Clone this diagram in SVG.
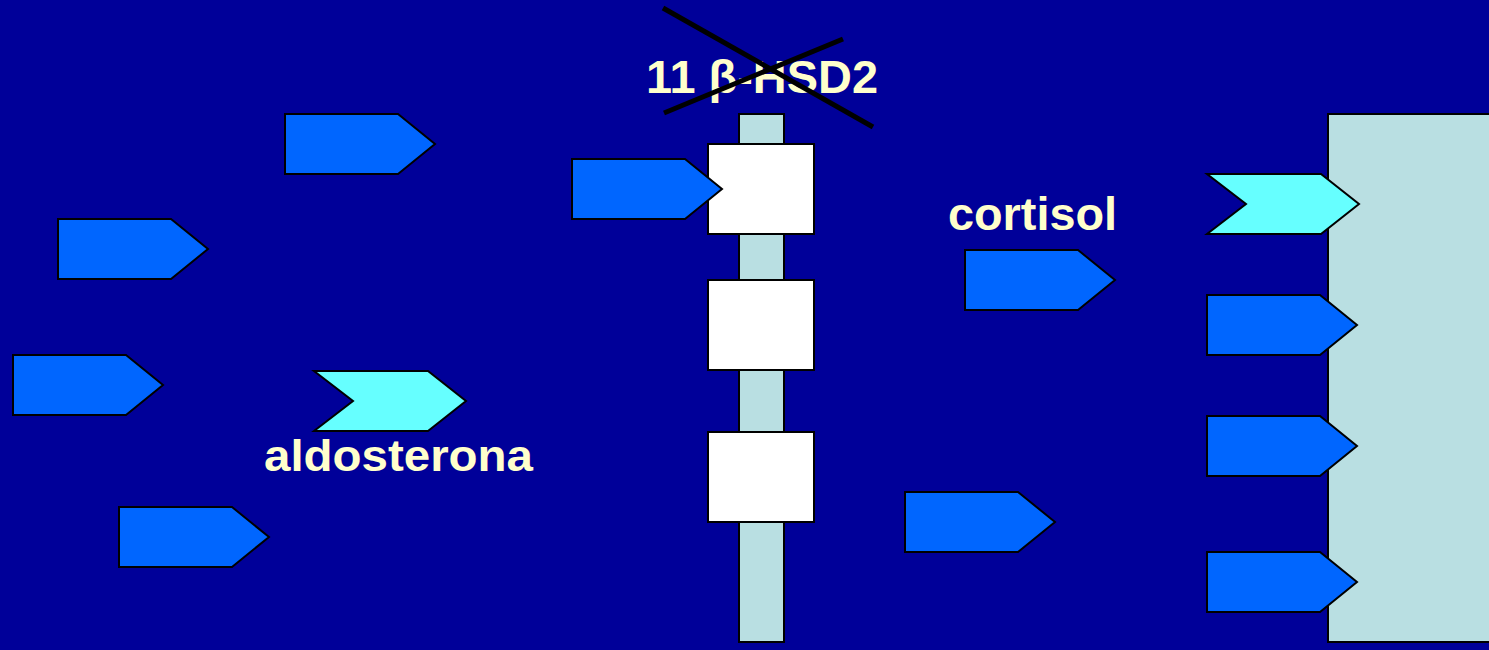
<svg xmlns="http://www.w3.org/2000/svg" width="1489" height="650" viewBox="0 0 1489 650">
<style>
.bg{fill:#000099}
.col{fill:#B9DFE2;stroke:#000;stroke-width:2}
.box{fill:#FFFFFF;stroke:#000;stroke-width:2}
.blue{fill:#0066FF;stroke:#000;stroke-width:2}
.cyan{fill:#66FFFF;stroke:#000;stroke-width:2}
.lbl{font-family:"Liberation Sans",Arial,sans-serif;font-weight:bold;fill:#FFFFCC}
.x{stroke:#000;stroke-width:5}
</style>
<defs>
<path id="pent" d="M0,0 H113 L150,30 L113,60 H0 Z"/>
<path id="chev" d="M0,0 H114 L152,30 L114,60 H0 L39,30 Z"/>
</defs>
<rect class="bg" x="0" y="0" width="1489" height="650"/>
<g id="membrane">
<rect class="col" x="739" y="114" width="45" height="528"/>
</g>
<g id="cell">
<rect class="col" x="1328" y="114" width="170" height="528"/>
</g>
<g id="box1"><rect class="box" x="708" y="144" width="106" height="90"/></g>
<g id="box2"><rect class="box" x="708" y="280" width="106" height="90"/></g>
<g id="box3"><rect class="box" x="708" y="432" width="106" height="90"/></g>
<g id="arrows">
<use href="#pent" class="blue" x="285" y="114"/>
<use href="#pent" class="blue" x="58" y="219"/>
<use href="#pent" class="blue" x="13" y="355"/>
<use href="#pent" class="blue" x="119" y="507"/>
<use href="#pent" class="blue" x="572" y="159"/>
<use href="#pent" class="blue" x="965" y="250"/>
<use href="#pent" class="blue" x="905" y="492"/>
<use href="#pent" class="blue" x="1207" y="295"/>
<use href="#pent" class="blue" x="1207" y="416"/>
<use href="#pent" class="blue" x="1207" y="552"/>
</g>
<g id="aldosterona">
<use href="#chev" class="cyan" x="314" y="371"/>
<text class="lbl" x="264" y="471" font-size="44" textLength="269" lengthAdjust="spacingAndGlyphs">aldosterona</text>
</g>
<g id="cortisol">
<use href="#chev" class="cyan" x="1207" y="174"/>
<text class="lbl" x="948" y="230" font-size="46" textLength="169" lengthAdjust="spacingAndGlyphs">cortisol</text>
</g>
<g id="hsd2">
<text class="lbl" x="646" y="93" font-size="46" textLength="232" lengthAdjust="spacingAndGlyphs">11 β-HSD2</text>
<line class="x" x1="663" y1="8" x2="873" y2="127"/>
<line class="x" x1="664" y1="113" x2="843" y2="39"/>
</g>
</svg>
